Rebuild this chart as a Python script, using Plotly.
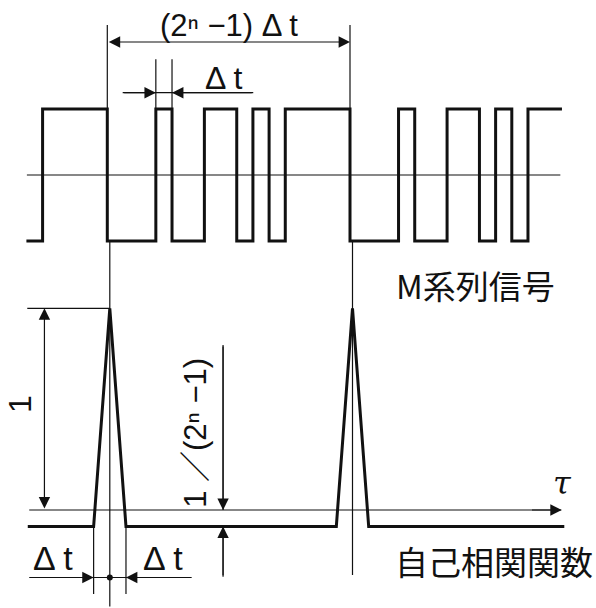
import plotly.graph_objects as go

# ---------------- data ----------------
# one period of the M-sequence (n = 4, 2^n - 1 = 15 bits)
m_sequence = [0, 0, 0, 1, 0, 0, 1, 1, 0, 1, 0, 1, 1, 1, 1]
signal_start = -5          # in units of Δt
signal_end = 28.1
level_high, level_low = 1, -1

# autocorrelation
corr_peaks = [0, 15]       # τ positions of the peaks (Δt units)
corr_peak_value = 1.0
corr_base_value = -0.082   # ≈ -1/(2^n-1) as drawn
corr_half_width = 1        # Δt
tau_start, tau_end = -5.07, 28.09

# ---------------- build traces ----------------
n_bits = len(m_sequence)
sig_x, sig_y = [], []
k = signal_start
while k < signal_end:
    bit = m_sequence[k % n_bits]
    sig_x.append(k)
    sig_y.append(level_high if bit else level_low)
    k += 1
sig_x.append(signal_end)
sig_y.append(sig_y[-1])

corr_x, corr_y = [tau_start], [corr_base_value]
for p in corr_peaks:
    corr_x += [p - corr_half_width, p, p + corr_half_width]
    corr_y += [corr_base_value, corr_peak_value, corr_base_value]
corr_x.append(tau_end)
corr_y.append(corr_base_value)

BLACK = "#111111"
fig = go.Figure()

def seg(xs, ys, top=False, width=1.2):
    fig.add_trace(go.Scatter(
        x=xs, y=ys, mode="lines",
        xaxis="x2" if top else "x", yaxis="y2" if top else "y",
        line=dict(color=BLACK, width=width), hoverinfo="skip", showlegend=False))

# main curves
fig.add_trace(go.Scatter(x=sig_x, y=sig_y, mode="lines", xaxis="x2", yaxis="y2",
                         line=dict(color=BLACK, width=3, shape="hv"),
                         hoverinfo="skip", showlegend=False))
fig.add_trace(go.Scatter(x=corr_x, y=corr_y, mode="lines",
                         line=dict(color=BLACK, width=3),
                         hoverinfo="skip", showlegend=False))

# signal midline
seg([-4.97, 28.0], [0, 0], top=True)

# long extension lines at the period boundaries
seg([0, 0], [2.273, level_low], top=True)
seg([0, 0], [1.334, -0.479])
seg([15, 15], [2.273, level_low], top=True)
seg([15, 15], [1.334, -0.322])

# Δt extension lines (top)
seg([3, 3], [1.753, level_high], top=True)
seg([4, 4], [1.753, level_high], top=True)
seg([0.95, 9.02], [1.247, 1.247], top=True)

# "1" height extension line
seg([-5.1, 0], [corr_peak_value, corr_peak_value])

# bottom Δt extension lines
seg([-1, -1], [corr_base_value, -0.4165])
seg([1, 1], [corr_base_value, -0.4165])
seg([-4.98, 5.06], [-0.3347, -0.3347])

# 1/(2^n-1) dimension line
seg([7, 7], [0.818, 0])
seg([7, 7], [-0.331, corr_base_value])

# τ axis
seg([-4.98, 27.9], [0, 0])

# center dot
fig.add_trace(go.Scatter(x=[0], y=[-0.3347], mode="markers",
                         marker=dict(size=6, color=BLACK, symbol="circle"),
                         hoverinfo="skip", showlegend=False))

annotations = []

def arrow(x, y, ax, ay, top=False, both=False):
    xr = "x2" if top else "x"
    yr = "y2" if top else "y"
    annotations.append(dict(
        x=x, y=y, ax=ax, ay=ay, xref=xr, yref=yr, axref=xr, ayref=yr,
        text="", showarrow=True, arrowhead=2, arrowsize=1.9, arrowwidth=1.2,
        arrowcolor=BLACK, arrowside="end+start" if both else "end",
        startarrowhead=2, startarrowsize=1.9, standoff=0, startstandoff=0))

# (2^n-1)Δt dimension
arrow(15, 2.015, 0, 2.015, top=True, both=True)
# top Δt arrows
arrow(3, 1.247, 0.95, 1.247, top=True)
arrow(4, 1.247, 9.02, 1.247, top=True)
# "1" height arrow
arrow(-4.04, 1, -4.04, 0, both=True)
# 1/(2^n-1)
arrow(7, 0, 7, 0.818)
arrow(7, corr_base_value, 7, -0.331)
# bottom Δt arrows
arrow(-1, -0.3347, -4.98, -0.3347)
arrow(1, -0.3347, 5.06, -0.3347)
# τ axis arrow
arrow(27.93, 0, 26.0, 0)

LAT = "Liberation Sans, Arial, Noto Sans CJK JP"
CJK = "Noto Sans CJK JP, Liberation Sans"

def label(x, y, text, size, top=False, angle=0, family=LAT):
    annotations.append(dict(
        x=x, y=y, xref="x2" if top else "x", yref="y2" if top else "y",
        text=text, showarrow=False, textangle=angle,
        font=dict(family=family, size=size, color=BLACK),
        xanchor="center", yanchor="middle"))

label(7.52, 2.258, "(2ⁿ −1) Δ t", 31, top=True)
label(7.19, 1.473, "Δ t", 32, top=True)
label(22.73, -1.667, "M系列信号", 33, top=True, family=CJK)
label(23.75, -0.2529, "自己相関関数", 33, family=CJK)
label(27.95, 0.135, "<i>τ</i>", 32, family="DejaVu Serif")
label(-5.55, 0.5255, "1", 32, angle=-90)
label(5.32, 0.3818, "1 ／(2ⁿ −1)", 31, angle=-90)
label(-3.49, -0.238, "Δ t", 34)
label(3.26, -0.238, "Δ t", 34)

fig.update_layout(
    width=596, height=608,
    margin=dict(l=0, r=0, t=0, b=0),
    paper_bgcolor="white", plot_bgcolor="white",
    showlegend=False,
    annotations=annotations,
    xaxis=dict(range=[-6.786, 30.049], visible=False, fixedrange=True),
    yaxis=dict(range=[-0.4859, 2.5285], visible=False, fixedrange=True),
    xaxis2=dict(range=[-6.632, 30.204], visible=False, overlaying="x",
                anchor="y2", fixedrange=True),
    yaxis2=dict(range=[-6.5606, 2.6515], visible=False, overlaying="y",
                anchor="x2", fixedrange=True),
)

fig.write_html("out.html", config={"displayModeBar": False})
